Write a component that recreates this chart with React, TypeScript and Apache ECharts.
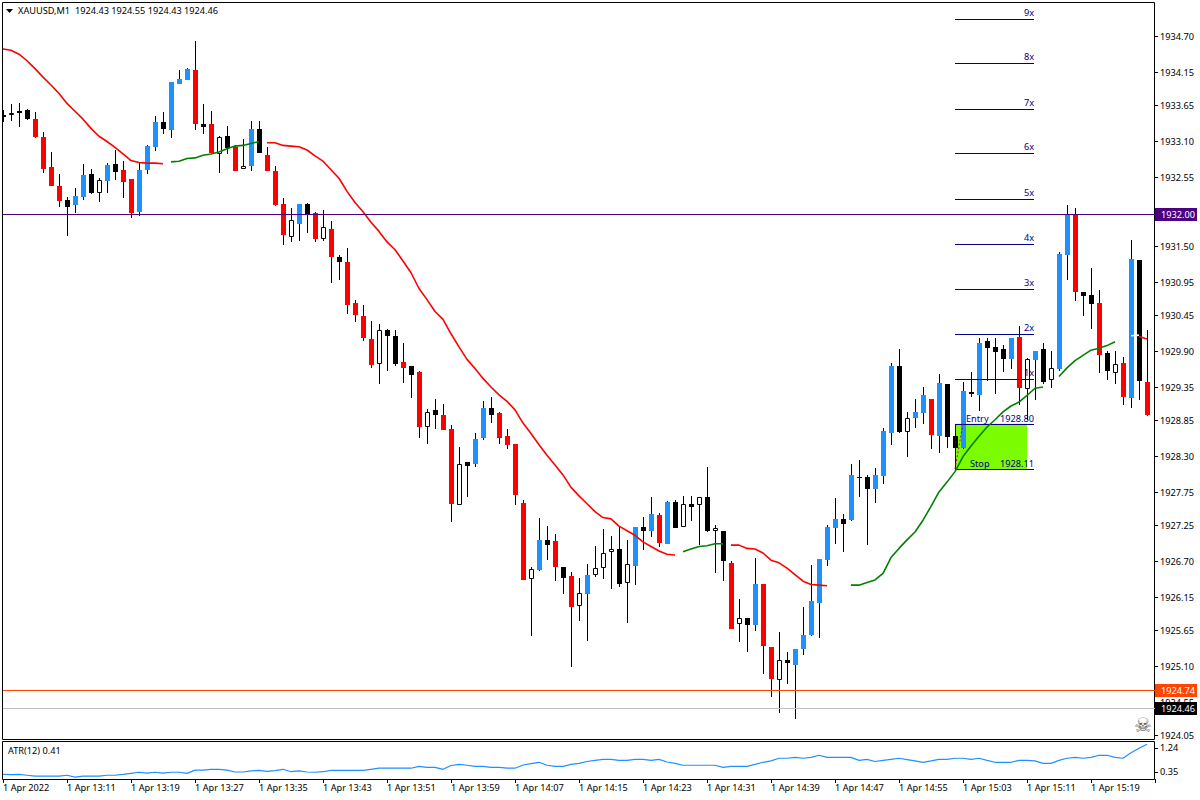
import React, { useEffect, useRef } from "react";
import * as echarts from "echarts";

const FONT = "Noto Sans";
const FS = 9.2;

const opens = [
  1933.50,1933.51,1933.56,1933.58,1933.44,1933.17,1932.71,1932.42,1932.21,1932.13,
  1932.25,1932.60,1932.31,1932.50,1932.76,1932.67,1932.53,1932.03,1932.67,1933.02,
  1933.40,1933.28,1933.98,1934.04,1934.19,1933.37,1933.37,1932.91,1933.18,1933.02,
  1932.68,1932.73,1933.29,1932.89,1932.65,1932.15,1931.65,1931.84,1932.15,1932.01,
  1931.61,1931.77,1931.34,1931.26,1930.64,1930.44,1930.09,1929.71,1930.23,1930.14,
  1929.74,1929.68,1929.59,1928.75,1929.01,1928.93,1928.72,1927.56,1928.22,1928.19,
  1928.58,1929.04,1928.96,1928.61,1928.49,1927.59,1926.43,1926.57,1927.03,1927.01,
  1926.62,1926.48,1926.02,1926.21,1926.49,1926.60,1926.85,1926.89,1926.37,1926.63,
  1927.23,1927.17,1927.41,1926.97,1927.61,1927.23,1927.58,1927.56,1927.68,1927.17,
  1927.17,1926.68,1925.75,1925.84,1925.73,1926.36,1925.40,1924.90,1925.20,1925.12,
  1925.37,1925.58,1926.07,1926.72,1927.21,1927.35,1927.33,1927.99,1927.99,1927.81,
  1928.00,1928.66,1929.68,1928.67,1928.89,1928.96,1929.18,1928.61,1929.41,1928.61,
  1928.43,1929.28,1929.24,1930.06,1929.97,1929.94,1929.79,1930.12,1929.33,1929.77,
  1929.94,1929.47,1929.63,1931.37,1931.98,1930.81,1930.76,1930.64,1929.88,1929.57,
  1929.72,1929.19,1931.29,1929.44,
];
const highs = [
  1933.58,1933.67,1933.69,1933.60,1933.55,1933.25,1932.94,1932.60,1932.25,1932.39,
  1932.76,1932.68,1932.54,1932.77,1932.97,1932.80,1932.53,1932.77,1933.05,1933.49,
  1933.55,1934.01,1934.19,1934.22,1934.63,1933.67,1933.57,1933.18,1933.34,1933.05,
  1933.14,1933.41,1933.41,1933.02,1932.73,1932.24,1932.09,1932.15,1932.16,1932.03,
  1932.06,1931.89,1931.37,1931.48,1930.69,1930.61,1930.37,1930.32,1930.24,1930.23,
  1930.03,1929.68,1929.60,1929.02,1929.18,1929.10,1928.78,1928.45,1928.22,1928.66,
  1929.15,1929.21,1928.98,1928.72,1928.49,1927.64,1926.62,1927.36,1927.24,1927.12,
  1926.62,1926.54,1926.45,1926.66,1926.94,1927.20,1927.09,1927.24,1927.03,1927.23,
  1927.38,1927.68,1927.44,1927.62,1927.64,1927.70,1927.70,1927.68,1928.14,1927.26,
  1927.17,1926.71,1926.13,1925.84,1926.75,1926.36,1925.40,1925.63,1925.32,1925.37,
  1926.01,1926.65,1926.74,1927.26,1927.67,1927.42,1928.19,1928.25,1928.02,1928.13,
  1928.73,1929.73,1929.94,1928.98,1929.18,1929.36,1929.18,1929.56,1929.41,1928.61,
  1929.44,1929.59,1930.11,1930.11,1930.11,1930.00,1930.11,1930.29,1929.80,1929.91,
  1930.03,1929.91,1931.41,1932.13,1932.09,1930.81,1931.17,1930.84,1929.91,1929.91,
  1929.82,1931.60,1931.29,1930.23,
];
const lows = [
  1933.40,1933.41,1933.32,1933.43,1933.15,1932.62,1932.42,1932.10,1931.66,1932.01,
  1932.21,1932.30,1932.18,1932.31,1932.51,1932.24,1931.93,1931.97,1932.61,1932.96,
  1933.21,1933.15,1933.98,1934.04,1933.28,1933.21,1932.93,1932.62,1932.91,1932.65,
  1932.68,1932.65,1932.93,1932.65,1932.12,1931.52,1931.57,1931.58,1931.71,1931.57,
  1931.58,1930.94,1930.99,1930.47,1930.35,1930.06,1929.65,1929.41,1929.60,1929.68,
  1929.42,1929.19,1928.58,1928.49,1928.72,1928.70,1927.30,1927.56,1927.68,1928.14,
  1928.55,1928.81,1928.49,1928.41,1927.56,1926.42,1925.57,1926.56,1926.72,1926.41,
  1926.21,1925.09,1925.79,1925.49,1926.46,1926.43,1926.28,1926.31,1925.76,1926.34,
  1926.88,1927.07,1926.92,1926.97,1927.21,1927.23,1927.32,1926.95,1927.15,1926.53,
  1926.41,1925.67,1925.47,1925.32,1925.64,1924.99,1924.64,1924.39,1924.83,1924.30,
  1925.28,1925.57,1925.53,1926.63,1926.97,1926.85,1927.32,1927.68,1926.95,1927.59,
  1927.88,1928.48,1928.66,1928.29,1928.73,1928.80,1928.41,1928.35,1928.43,1928.43,
  1928.41,1929.21,1928.99,1929.45,1929.25,1929.59,1929.63,1929.09,1928.86,1929.16,
  1929.41,1929.34,1929.60,1930.99,1930.67,1930.44,1930.24,1929.57,1929.47,1929.41,
  1929.09,1929.04,1929.16,1928.92,
];
const closes = [
  1933.47,1933.54,1933.54,1933.44,1933.17,1932.68,1932.42,1932.19,1932.10,1932.27,
  1932.59,1932.31,1932.51,1932.74,1932.63,1932.48,1932.01,1932.67,1933.03,1933.40,
  1933.29,1934.01,1934.05,1934.21,1933.37,1933.32,1932.93,1933.17,1933.00,1932.65,
  1932.73,1933.29,1932.93,1932.65,1932.13,1931.68,1931.90,1932.15,1932.00,1931.61,
  1931.80,1931.34,1931.26,1930.61,1930.46,1930.11,1929.69,1930.23,1930.14,1929.71,
  1929.65,1929.54,1928.75,1928.98,1928.93,1928.70,1927.58,1928.19,1928.16,1928.57,
  1929.04,1928.93,1928.58,1928.48,1927.71,1926.42,1926.59,1927.03,1926.95,1926.62,
  1926.45,1926.01,1926.22,1926.49,1926.60,1926.83,1926.89,1926.36,1926.66,1927.23,
  1927.17,1927.42,1926.98,1927.61,1927.21,1927.58,1927.53,1927.68,1927.17,1927.21,
  1926.71,1925.67,1925.84,1925.73,1926.36,1925.41,1924.91,1925.20,1925.15,1925.37,
  1925.58,1926.10,1926.74,1927.23,1927.35,1927.27,1928.02,1927.97,1927.81,1928.02,
  1928.69,1929.68,1928.67,1928.89,1928.98,1929.24,1928.63,1929.42,1928.60,1928.43,
  1929.30,1929.25,1930.03,1929.95,1929.89,1929.79,1930.11,1929.34,1929.79,1929.91,
  1929.44,1929.65,1931.39,1931.98,1930.81,1930.75,1930.62,1929.85,1929.60,1929.71,
  1929.21,1931.31,1929.45,1928.93,
];
// b = blue, w = white, r = red, k = black
const kinds =
  "kwkkrrrrkb" + "bkwbkrrbbb" + "kbbbrkrwkr" + "wbkrrrwbkr" +
  "wrkrrrrwkk" + "rkrwkrrwkb" + "bkrrrrwbkr" + "krwbwwwkwb" +
  "kbrbkwkwkw" + "krwkbrrwkb" + "bbbbbkbkkb" + "bbkwbbrbkk" +
  "bkbkkkbrwb" + "kwbbrkkrkw" + "rbkr";

const maRedA = [
  1934.51,1934.49,1934.43,1934.33,1934.21,1934.08,1933.96,1933.83,1933.68,1933.56,
  1933.44,1933.30,1933.18,1933.10,1933.01,1932.91,1932.81,1932.78,1932.77,1932.77,1932.76,
];
const maGreenA = [1932.79,1932.80,1932.84,1932.85,1932.89,1932.91,1932.94,1932.99,1933.03,1933.04,1933.07,1933.10];
const maRedB = [
  1933.08,1933.08,1933.04,1933.03,1933.02,1932.97,1932.88,1932.80,1932.67,1932.54,
  1932.34,1932.17,1932.03,1931.87,1931.73,1931.57,1931.45,1931.28,1931.10,1930.86,
  1930.69,1930.51,1930.39,1930.17,1929.97,1929.78,1929.64,1929.49,1929.36,1929.24,
  1929.14,1929.01,1928.81,1928.65,1928.48,1928.32,1928.17,1928.02,1927.83,1927.70,
  1927.58,1927.46,1927.37,1927.35,1927.24,1927.17,1927.10,1927.00,1926.93,1926.86,
  1926.81,1926.80,
];
const maGreenB = [1926.85,1926.89,1926.93,1926.94,1926.97,1926.97];
const maRedC = [1926.95,1926.95,1926.90,1926.89,1926.83,1926.72,1926.68,1926.60,1926.50,1926.40,1926.35,1926.34,1926.33];
const maGreenC = [
  1926.34,1926.34,1926.38,1926.42,1926.52,1926.76,1926.90,1927.03,1927.15,1927.33,
  1927.54,1927.76,1927.91,1928.07,1928.30,1928.46,1928.61,1928.75,1928.86,1928.98,
  1929.07,1929.13,1929.23,1929.34,1929.36,
];
const maGreenD = [1929.52,1929.65,1929.76,1929.84,1929.92,1929.95,1929.99,1930.05];
const maWhiteA = [1930.14,1930.15];
const maRedD = [1930.13,1930.09];

const atrValues = [
  .26,.25,.26,.23,.20,.20,.20,.20,.23,.16,.20,.20,.20,.23,.23,.26,.30,.34,.31,.34,
  .31,.34,.34,.30,.42,.42,.45,.45,.42,.35,.35,.39,.41,.37,.40,.45,.36,.39,
  .35,.34,.36,.41,.41,.41,.41,.41,.45,.49,.49,.49,.49,.49,.56,.52,.52,.45,.59,.63,
  .60,.56,.56,.52,.52,.49,.49,.61,.66,.71,.60,.56,.56,.63,.67,.74,.78,
  .82,.82,.78,.78,.82,.82,.78,.82,.72,.67,.60,.60,.60,.60,.60,.52,.56,.56,.56,.63,
  .71,.76,.86,.86,.89,.86,.89,.97,.89,.89,.89,.89,.78,.82,.74,.78,.82,.86,
  .81,.76,.71,.76,.82,.82,.86,.86,.82,.86,.78,.71,.71,.71,.78,.78,.76,.67,.67,.78,
  .86,.89,.86,.89,.97,.97,.89,.86,1.06,1.23,1.38,
];

const priceTicks = [
  1934.70,1934.15,1933.65,1933.10,1932.55,1932.00,1931.50,1930.95,1930.45,1929.90,1929.35,
  1928.85,1928.30,1927.75,1927.25,1926.70,1926.15,1925.65,1925.10,1924.55,1924.05,
];
const atrTicks = [1.24, 0.35];

const levelNames = ["1932.00", "1924.74", "1924.46"];
const levelValues = [1932.0, 1924.74, 1924.46];

const tradeNames = ["9x","8x","7x","6x","5x","4x","3x","2x","1x","Entry","Stop"];
const tradeValues = [1934.97,1934.29,1933.60,1932.92,1932.23,1931.54,1930.85,1930.17,1929.48,1928.80,1928.11];

const titleText = "XAUUSD,M1  1924.43 1924.55 1924.43 1924.46";
const atrText = "ATR(12) 0.41";

const BAR_COUNT = 145;
const categories: string[] = [];
for (let i = 0; i < BAR_COUNT; i++) {
  const m = 13 * 60 + 3 + i;
  const hh = String(Math.floor(m / 60));
  const mm = String(m % 60).padStart(2, "0");
  categories.push(i === 0 ? "1 Apr 2022" : i === BAR_COUNT - 1 ? "" : `1 Apr ${hh}:${mm}`);
}

const pad = (parts: [number, number[]][]) => {
  const out: (number | null)[] = new Array(BAR_COUNT).fill(null);
  parts.forEach(([start, vals]) => vals.forEach((v, k) => (out[start + k] = v)));
  return out;
};
const maRed = pad([[0, maRedA], [33, maRedB], [91, maRedC], [142, maRedD]]);
const maGreen = pad([[21, maGreenA], [85, maGreenB], [106, maGreenC], [132, maGreenD]]);
const maWhite = pad([[141, maWhiteA]]);

const COLORS: Record<string, string> = { b: "#1E90FF", r: "#FF0000", k: "#000000", w: "#FFFFFF" };
const NAVY = "#000080";
const LEVEL_COLORS = ["#4B0082", "#FF4500", "#C0C0C0"];
const LABEL_COLORS = ["#4B0082", "#FF4500", "#000000"];

const renderCandle = (_p: any, api: any) => {
  const i = api.value(0);
  const [px] = api.coord([i, api.value(1)]);
  const c = Math.round(px);
  const yo = api.coord([i, api.value(1)])[1];
  const yc = api.coord([i, api.value(4)])[1];
  const yh = Math.round(api.coord([i, api.value(2)])[1]);
  const yl = Math.round(api.coord([i, api.value(3)])[1]);
  const top = Math.round(Math.min(yo, yc));
  const bot = Math.max(top + 1, Math.round(Math.max(yo, yc)));
  const kind = kinds[i];
  const children: any[] = [
    { type: "rect", shape: { x: c, y: yh, width: 1, height: Math.max(1, yl - yh) }, style: { fill: "#000" } },
  ];
  if (kind === "w") {
    children.push({
      type: "rect",
      shape: { x: c - 1.5, y: top + 0.5, width: 4, height: Math.max(1, bot - top - 1) },
      style: { fill: "#fff", stroke: "#000", lineWidth: 1 },
    });
  } else {
    children.push({
      type: "rect",
      shape: { x: c - 2, y: top, width: 5, height: bot - top },
      style: { fill: COLORS[kind] },
    });
  }
  return { type: "group", children };
};

const renderLevel = (params: any, api: any) => {
  const idx = params.dataIndex;
  const y = Math.floor(api.coord([0, api.value(1)])[1] + 0.4);
  const g = params.coordSys;
  return {
    type: "group",
    children: [
      { type: "rect", shape: { x: g.x, y, width: g.width, height: 1 }, style: { fill: LEVEL_COLORS[idx] } },
      { type: "rect", shape: { x: 1155, y: y - 6, width: 42, height: 13 }, style: { fill: LABEL_COLORS[idx] } },
      {
        type: "text", x: 1161, y: y + 0.5,
        style: { text: levelNames[idx], fill: "#fff", font: `${FS}px "${FONT}"`, verticalAlign: "middle", align: "left" },
      },
    ],
  };
};

const TRADE_FROM = 119, TRADE_TO = 128, LINE_TO = 129;

const renderTradeBox = (_p: any, api: any) => {
  const a = api.coord([TRADE_FROM, api.value(1)]);
  const b = api.coord([TRADE_TO, api.value(2)]);
  return {
    type: "group",
    children: [
      { type: "rect", shape: { x: a[0], y: a[1], width: b[0] - a[0], height: b[1] - a[1] }, style: { fill: "#7CFC00" } },
    ],
  };
};

const renderTradeLine = (params: any, api: any) => {
  const idx = params.dataIndex;
  const v = api.value(1);
  const y = Math.round(api.coord([0, v])[1]);
  const x0 = api.coord([TRADE_FROM, v])[0];
  const x1 = api.coord([LINE_TO, v])[0] - 1;
  const name = tradeNames[idx];
  const font = `${FS}px "${FONT}"`;
  const children: any[] = [
    { type: "rect", shape: { x: x0, y, width: x1 - x0, height: 1 }, style: { fill: NAVY } },
  ];
  if (name === "Entry" || name === "Stop") {
    children.push(
      { type: "text", x: x0 + (name === "Entry" ? 11 : 15), y: y - 5.5, style: { text: name, fill: NAVY, font, align: "left", verticalAlign: "middle" } },
      { type: "text", x: x1, y: y - 5.5, style: { text: v.toFixed(2), fill: NAVY, font, align: "right", verticalAlign: "middle" } },
    );
    if (name === "Entry") {
      const yStop = Math.round(api.coord([0, tradeValues[idx + 1]])[1]);
      children.push({ type: "rect", shape: { x: x0, y, width: 1, height: yStop - y }, style: { fill: NAVY } });
    }
  } else {
    children.push({ type: "text", x: x1, y: y - 6.5, style: { text: name, fill: NAVY, font, align: "right", verticalAlign: "middle" } });
  }
  return { type: "group", children };
};

const axisText = { fontFamily: FONT, fontSize: FS, color: "#000" };

export default function App() {
  const ref = useRef<HTMLDivElement>(null);
  useEffect(() => {
    document.body.style.margin = "0";
    document.body.style.overflow = "hidden";
    const chart = echarts.init(ref.current!, undefined, { renderer: "svg" });
    const candleRows = opens.map((o, i) => [i, o, highs[i], lows[i], closes[i]]);
    const lineBase = { type: "line", xAxisIndex: 0, yAxisIndex: 0, symbol: "none", showSymbol: false, silent: true, connectNulls: false, z: 4 };
    chart.setOption({
      animation: false,
      backgroundColor: "#fff",
      tooltip: { show: false },
      grid: [
        { left: 3, top: 3, width: 1152, height: 736 },
        { left: 3, top: 742, width: 1152, height: 37 },
      ],
      xAxis: [
        { type: "category", gridIndex: 0, data: categories, boundaryGap: false, axisLine: { show: false }, axisTick: { show: false }, axisLabel: { show: false }, splitLine: { show: false } },
        {
          type: "category", gridIndex: 1, data: categories, boundaryGap: false,
          axisLine: { show: false },
          axisTick: { show: true, interval: 7, length: 4, lineStyle: { color: "#000" } },
          axisLabel: { ...axisText, interval: 7, align: "left", margin: 4, hideOverlap: false, showMinLabel: true },
          splitLine: { show: false },
        },
      ],
      yAxis: [
        {
          type: "value", gridIndex: 0, position: "right", min: 1923.996, max: 1935.21,
          axisLine: { show: false }, splitLine: { show: false },
          axisTick: { show: true, length: 3, lineStyle: { color: "#000" }, customValues: priceTicks },
          axisLabel: { ...axisText, margin: 5, customValues: priceTicks, formatter: (v: number) => v.toFixed(2) },
        },
        {
          type: "value", gridIndex: 1, position: "right", min: 0.09, max: 1.4625,
          axisLine: { show: false }, splitLine: { show: false },
          axisTick: { show: true, length: 3, lineStyle: { color: "#000" }, customValues: atrTicks },
          axisLabel: { ...axisText, margin: 5, customValues: atrTicks, formatter: (v: number) => v.toFixed(2) },
        },
      ],
      series: [
        { type: "custom", name: "tradeBox", xAxisIndex: 0, yAxisIndex: 0, z: 1, silent: true, clip: true, renderItem: renderTradeBox, encode: { x: 0, y: 1 }, data: [[TRADE_FROM, tradeValues[9], tradeValues[10]]] },
        { type: "custom", name: "candles", xAxisIndex: 0, yAxisIndex: 0, z: 2, silent: true, clip: true, renderItem: renderCandle, encode: { x: 0, y: [1, 2, 3, 4] }, data: candleRows },
        { type: "custom", name: "tradeLines", xAxisIndex: 0, yAxisIndex: 0, z: 3, silent: true, clip: false, renderItem: renderTradeLine, encode: { x: 0, y: 1 }, data: tradeValues.map((v) => [TRADE_FROM, v]) },
        { ...lineBase, name: "stopToEntry", z: 3, data: [[TRADE_FROM, tradeValues[10]], [TRADE_FROM + 1, tradeValues[9]]], lineStyle: { color: "#A000A0", width: 1, type: [2, 2] } },
        { ...lineBase, name: "maRed", data: maRed, lineStyle: { color: "#FF0000", width: 1.6 } },
        { ...lineBase, name: "maGreen", data: maGreen, lineStyle: { color: "#008000", width: 1.6 } },
        { ...lineBase, name: "maWhite", data: maWhite, lineStyle: { color: "#FFFFFF", width: 1.6 } },
        { type: "custom", name: "levels", xAxisIndex: 0, yAxisIndex: 0, z: 5, silent: true, clip: false, renderItem: renderLevel, encode: { x: 0, y: 1 }, data: levelValues.map((v) => [0, v]) },
        { type: "line", name: "atr", xAxisIndex: 1, yAxisIndex: 1, symbol: "none", silent: true, data: atrValues, lineStyle: { color: "#1E90FF", width: 1.2 } },
      ],
      graphic: [
        { type: "rect", silent: true, shape: { x: 2.5, y: 2.5, width: 1152, height: 737 }, style: { fill: "transparent", stroke: "#000", lineWidth: 1 } },
        { type: "rect", silent: true, shape: { x: 2.5, y: 741.5, width: 1152, height: 38 }, style: { fill: "transparent", stroke: "#000", lineWidth: 1 } },
        { type: "polygon", silent: true, shape: { points: [[6, 9], [13, 9], [9.5, 13]] }, style: { fill: "#000" } },
        { type: "text", silent: true, x: 18, y: 10, style: { text: titleText, fill: "#000", font: `${FS}px "${FONT}"`, verticalAlign: "middle" } },
        { type: "text", silent: true, x: 8, y: 750, style: { text: atrText, fill: "#000", font: `${FS}px "${FONT}"`, verticalAlign: "middle" } },
        { type: "text", silent: true, x: 1143, y: 725, style: { text: "\u2620", fill: "#666", font: `20px "DejaVu Sans"`, align: "center", verticalAlign: "middle" } },
      ],
    });
    return () => chart.dispose();
  }, []);
  return <div ref={ref} style={{ width: 1200, height: 800 }} />;
}
